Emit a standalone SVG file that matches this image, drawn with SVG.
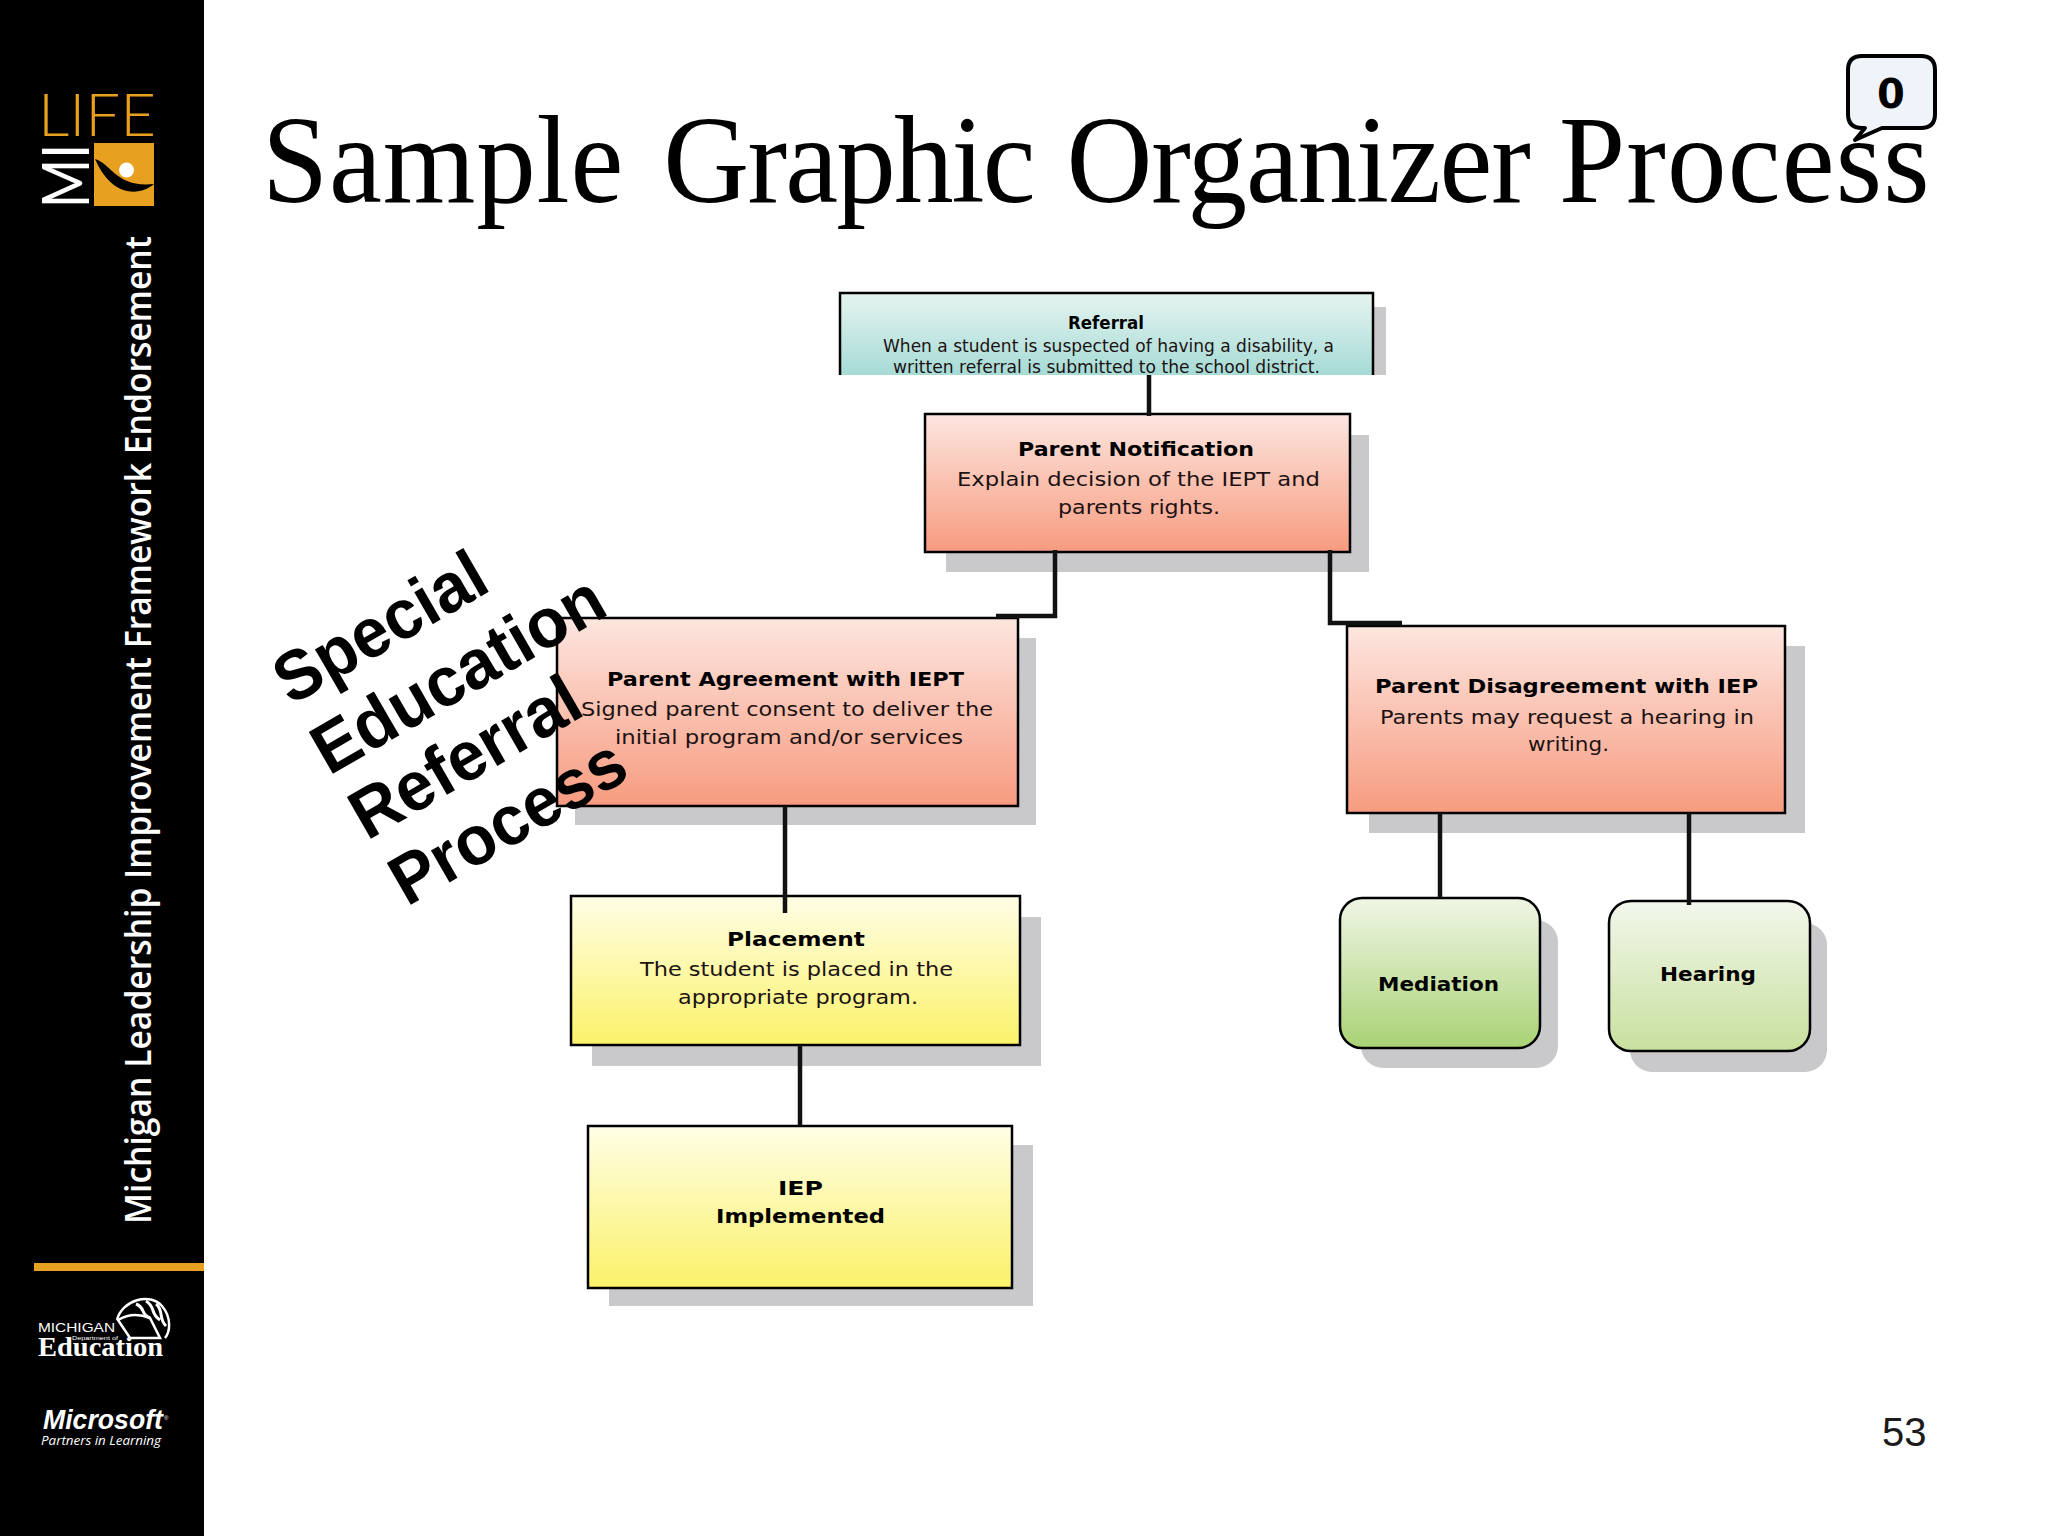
<svg xmlns="http://www.w3.org/2000/svg" width="2048" height="1536" viewBox="0 0 2048 1536">
<defs>
<linearGradient id="gTeal" x1="0" y1="0" x2="0" y2="1"><stop offset="0" stop-color="#e6f4f0"/><stop offset="1" stop-color="#a6dbd6"/></linearGradient>
<linearGradient id="gSalmon" x1="0" y1="0" x2="0" y2="1"><stop offset="0" stop-color="#fde6e0"/><stop offset="1" stop-color="#f79b7f"/></linearGradient>
<linearGradient id="gYellow" x1="0" y1="0" x2="0" y2="1"><stop offset="0" stop-color="#fffee6"/><stop offset="1" stop-color="#fbf26a"/></linearGradient>
<linearGradient id="gGreen" x1="0" y1="0" x2="0" y2="1"><stop offset="0" stop-color="#f0f6e6"/><stop offset="1" stop-color="#a9d274"/></linearGradient>
<linearGradient id="gGreen2" x1="0" y1="0" x2="0" y2="1"><stop offset="0" stop-color="#f2f7ec"/><stop offset="1" stop-color="#c8e09e"/></linearGradient>
</defs>
<style>
.box{stroke:#000;stroke-width:2.5}
.shadow{fill:#c9c9cb}
.conn{fill:none;stroke:#111;stroke-width:4.5}
.t{font-family:"DejaVu Sans",sans-serif;font-size:20px;fill:#1c1212;text-anchor:start}
.b{font-weight:bold;fill:#000}
.s{font-size:17px}
.diag{font-family:"Liberation Sans",Arial,sans-serif;font-weight:bold;font-size:70px;fill:#000}
</style>
<rect width="2048" height="1536" fill="#fff"/>
<g id="sidebar">
<rect x="0" y="0" width="204" height="1536" fill="#000"/>
<text x="38" y="136" font-family="Lato,sans-serif" font-weight="300" font-size="60" fill="#e8a020" textLength="118" lengthAdjust="spacingAndGlyphs">LIFE</text>
<text transform="translate(89,208) rotate(-90)" font-family="Lato,sans-serif" font-size="66" fill="#fff" textLength="64" lengthAdjust="spacingAndGlyphs">MI</text>
<rect x="94" y="143" width="60" height="63" fill="#e8a020"/>
<circle cx="126.500" cy="170" r="7.500" fill="#fff"/>
<path d="M95 159C112 164 116 188 154 184C140 196 112 198 95 159Z" fill="#000"/>
<text transform="translate(151,1224) rotate(-90)" font-family="'Open Sans',sans-serif" font-weight="600" font-size="36" fill="#fff" textLength="988" lengthAdjust="spacingAndGlyphs">Michigan Leadership Improvement Framework Endorsement</text>
<rect x="34" y="1263" width="170" height="8" fill="#e8a020"/>
<text x="38" y="1332" font-family="'Liberation Sans',sans-serif" font-size="13" fill="#fff" textLength="77" lengthAdjust="spacingAndGlyphs">MICHIGAN</text>
<text x="72" y="1340" font-family="'Liberation Sans',sans-serif" font-size="6" fill="#fff" textLength="46" lengthAdjust="spacingAndGlyphs">Department of</text>
<text x="38" y="1356" font-family="'Liberation Serif',serif" font-weight="bold" font-size="27" fill="#fff" textLength="125" lengthAdjust="spacingAndGlyphs">Education</text>
<path d="M117 1320C122 1300 150 1292 162 1306C172 1318 170 1332 165 1338" fill="none" stroke="#fff" stroke-width="2.500"/>
<path d="M118 1320L130 1338L160 1338L150 1318C140 1314 128 1314 118 1320Z" fill="none" stroke="#fff" stroke-width="2.500"/>
<path d="M136 1304C146 1308 140 1314 150 1318M146 1301C156 1307 150 1314 160 1320M156 1304C164 1310 158 1318 166 1326" fill="none" stroke="#fff" stroke-width="3"/>
<text x="43" y="1429" font-family="'Liberation Sans',sans-serif" font-weight="bold" font-style="italic" font-size="27" fill="#fff" textLength="120" lengthAdjust="spacingAndGlyphs">Microsoft</text>
<text x="164" y="1420" font-family="'Liberation Sans',sans-serif" font-size="6" fill="#fff">®</text>
<text x="41" y="1445" font-family="'Open Sans',sans-serif" font-style="italic" font-size="12" fill="#fff" textLength="120" lengthAdjust="spacingAndGlyphs">Partners in Learning</text>
</g>
<text id="title" transform="translate(262,202) scale(.96,1)" font-family="'Liberation Serif',serif" font-size="124" fill="#000"><tspan x="0" letter-spacing=".9">Sample </tspan><tspan x="418" letter-spacing="-1.9">Graphic </tspan><tspan x="838" letter-spacing="-1.2">Organizer </tspan><tspan x="1351" letter-spacing="1.2">Process</tspan></text>
<g id="referral">
<rect class="shadow" x="860" y="307" width="526" height="68"/>
<rect x="840" y="293" width="533" height="82" fill="url(#gTeal)"/>
<path d="M840 375V293H1373V375" fill="none" stroke="#000" stroke-width="2.500"/>
<text class="t b s" x="1068" y="329" textLength="76" lengthAdjust="spacingAndGlyphs">Referral</text>
<text class="t s" x="883" y="352" textLength="451" lengthAdjust="spacingAndGlyphs">When a student is suspected of having a disability, a</text>
<text class="t s" x="893" y="373" textLength="427" lengthAdjust="spacingAndGlyphs">written referral is submitted to the school district.</text>
</g>
<g id="parent-notification">
<rect class="shadow" x="946" y="435" width="423" height="137"/>
<rect class="box" x="925" y="414" width="425" height="138" fill="url(#gSalmon)"/>
<text class="t b" x="1018" y="456" textLength="236" lengthAdjust="spacingAndGlyphs">Parent Notification</text>
<text class="t" x="957" y="486" textLength="363" lengthAdjust="spacingAndGlyphs">Explain decision of the IEPT and</text>
<text class="t" x="1058" y="514" textLength="162" lengthAdjust="spacingAndGlyphs">parents rights.</text>
</g>
<g id="parent-agreement">
<rect class="shadow" x="575" y="638" width="461" height="187"/>
<rect class="box" x="557" y="618" width="461" height="188" fill="url(#gSalmon)"/>
<text class="t b" x="607" y="686" textLength="357" lengthAdjust="spacingAndGlyphs">Parent Agreement with IEPT</text>
<text class="t" x="581" y="716" textLength="412" lengthAdjust="spacingAndGlyphs">Signed parent consent to deliver the</text>
<text class="t" x="615" y="744" textLength="348" lengthAdjust="spacingAndGlyphs">initial program and/or services</text>
</g>
<g id="parent-disagreement">
<rect class="shadow" x="1369" y="646" width="436" height="187"/>
<rect class="box" x="1347" y="626" width="438" height="187" fill="url(#gSalmon)"/>
<text class="t b" x="1375" y="693" textLength="383" lengthAdjust="spacingAndGlyphs">Parent Disagreement with IEP</text>
<text class="t" x="1380" y="724" textLength="374" lengthAdjust="spacingAndGlyphs">Parents may request a hearing in</text>
<text class="t" x="1528" y="751" textLength="81" lengthAdjust="spacingAndGlyphs">writing.</text>
</g>
<g id="placement">
<rect class="shadow" x="592" y="917" width="449" height="149"/>
<rect class="box" x="571" y="896" width="449" height="149" fill="url(#gYellow)"/>
<text class="t b" x="727" y="946" textLength="138" lengthAdjust="spacingAndGlyphs">Placement</text>
<text class="t" x="640" y="976" textLength="313" lengthAdjust="spacingAndGlyphs">The student is placed in the</text>
<text class="t" x="678" y="1004" textLength="240" lengthAdjust="spacingAndGlyphs">appropriate program.</text>
</g>
<g id="iep-implemented">
<rect class="shadow" x="609" y="1145" width="424" height="161"/>
<rect class="box" x="588" y="1126" width="424" height="162" fill="url(#gYellow)"/>
<text class="t b" x="778" y="1195" textLength="45" lengthAdjust="spacingAndGlyphs">IEP</text>
<text class="t b" x="716" y="1223" textLength="169" lengthAdjust="spacingAndGlyphs">Implemented</text>
</g>
<g id="mediation">
<rect class="shadow" x="1361" y="920" width="197" height="148" rx="22"/>
<rect class="box" x="1340" y="898" width="200" height="150" rx="22" fill="url(#gGreen)"/>
<text class="t b" x="1378" y="991" textLength="121" lengthAdjust="spacingAndGlyphs">Mediation</text>
</g>
<g id="hearing">
<rect class="shadow" x="1630" y="923" width="197" height="149" rx="22"/>
<rect class="box" x="1609" y="901" width="201" height="150" rx="22" fill="url(#gGreen2)"/>
<text class="t b" x="1660" y="981" textLength="96" lengthAdjust="spacingAndGlyphs">Hearing</text>
</g>
<g id="connectors">
<path class="conn" d="M1149 375V416"/>
<path class="conn" d="M1055 550V616H996"/>
<path class="conn" d="M1330 550V623H1402"/>
<path class="conn" d="M785 806V913"/>
<path class="conn" d="M800 1045V1126"/>
<path class="conn" d="M1440 813V898"/>
<path class="conn" d="M1689 813V905"/>
</g>
<g id="rotated-label">
<text class="diag" transform="translate(291,706) rotate(-30)" textLength="233" lengthAdjust="spacingAndGlyphs">Special</text>
<text class="diag" transform="translate(329,776) rotate(-30)" textLength="325" lengthAdjust="spacingAndGlyphs">Education</text>
<text class="diag" transform="translate(367,841) rotate(-30)" textLength="254" lengthAdjust="spacingAndGlyphs">Referral</text>
<text class="diag" transform="translate(407,907) rotate(-30)" textLength="260" lengthAdjust="spacingAndGlyphs">Process</text>
</g>
<g id="comment-bubble">
<path d="M1862 56H1921Q1935 56 1935 70V114Q1935 128 1921 128H1882L1855 140L1865 128H1862Q1848 128 1848 114V70Q1848 56 1862 56Z" fill="#eef4f9" stroke="#000" stroke-width="4" stroke-linejoin="round"/>
<text x="1891" y="108" font-family="'DejaVu Sans',sans-serif" font-weight="bold" font-size="40" fill="#000" text-anchor="middle">0</text>
</g>
<text id="page-number" x="1882" y="1446" font-family="'Liberation Sans',sans-serif" font-size="40" fill="#1a1a1a">53</text>
</svg>
